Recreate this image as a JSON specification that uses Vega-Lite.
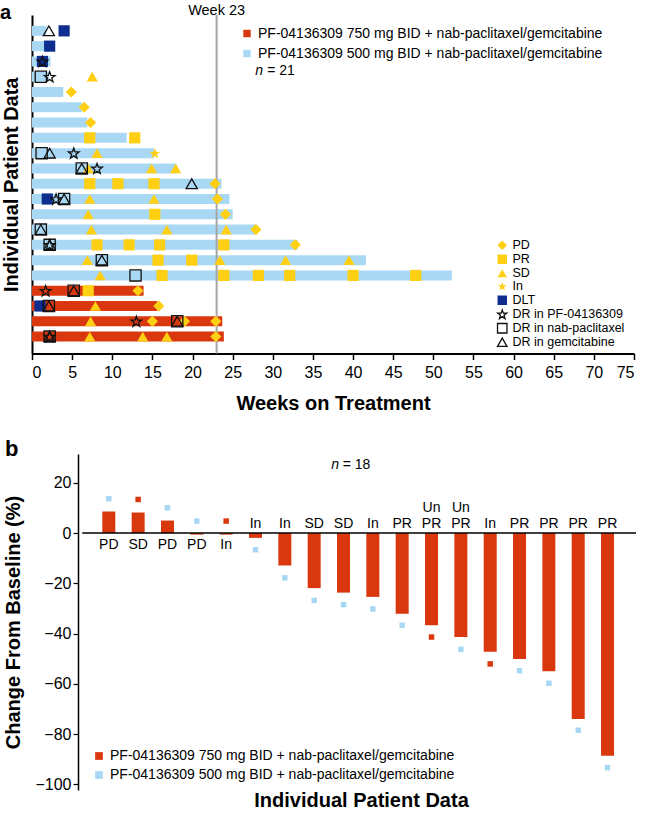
{
  "$schema": "https://vega.github.io/schema/vega-lite/v6.json",
  "padding": {"left": 0, "top": 3, "right": 0, "bottom": 0},
  "background": "white",
  "config": {
    "font": "Liberation Sans",
    "view": {"stroke": null},
    "axis": {"grid": false, "domainColor": "black", "tickColor": "black", "labelColor": "black", "titleColor": "black"},
    "legend": {"labelColor": "black"}
  },
  "datasets": {
    "bars_a": [
      {"row": 1, "weeks": 1.8, "arm": "500"},
      {"row": 2, "weeks": 2.5, "arm": "500"},
      {"row": 3, "weeks": 2.3, "arm": "500"},
      {"row": 4, "weeks": 2.1, "arm": "500"},
      {"row": 5, "weeks": 3.9, "arm": "500"},
      {"row": 6, "weeks": 6.2, "arm": "500"},
      {"row": 7, "weeks": 6.9, "arm": "500"},
      {"row": 8, "weeks": 11.8, "arm": "500"},
      {"row": 9, "weeks": 15.2, "arm": "500"},
      {"row": 10, "weeks": 18.0, "arm": "500"},
      {"row": 11, "weeks": 23.6, "arm": "500"},
      {"row": 12, "weeks": 24.6, "arm": "500"},
      {"row": 13, "weeks": 25.0, "arm": "500"},
      {"row": 14, "weeks": 28.0, "arm": "500"},
      {"row": 15, "weeks": 33.1, "arm": "500"},
      {"row": 16, "weeks": 41.6, "arm": "500"},
      {"row": 17, "weeks": 52.3, "arm": "500"},
      {"row": 18, "weeks": 13.9, "arm": "750"},
      {"row": 19, "weeks": 15.6, "arm": "750"},
      {"row": 20, "weeks": 23.7, "arm": "750"},
      {"row": 21, "weeks": 23.9, "arm": "750"}
    ],
    "events": [
      {"row": 4, "weeks": 7.5, "event": "SD"},
      {"row": 5, "weeks": 4.9, "event": "PD"},
      {"row": 6, "weeks": 6.5, "event": "PD"},
      {"row": 7, "weeks": 7.3, "event": "PD"},
      {"row": 8, "weeks": 7.2, "event": "PR"},
      {"row": 8, "weeks": 12.8, "event": "PR"},
      {"row": 9, "weeks": 8.1, "event": "SD"},
      {"row": 9, "weeks": 15.3, "event": "In"},
      {"row": 10, "weeks": 7.0, "event": "SD"},
      {"row": 10, "weeks": 14.9, "event": "SD"},
      {"row": 10, "weeks": 17.9, "event": "SD"},
      {"row": 11, "weeks": 7.2, "event": "PR"},
      {"row": 11, "weeks": 10.7, "event": "PR"},
      {"row": 11, "weeks": 15.2, "event": "PR"},
      {"row": 11, "weeks": 22.8, "event": "PD"},
      {"row": 12, "weeks": 7.2, "event": "SD"},
      {"row": 12, "weeks": 15.2, "event": "SD"},
      {"row": 12, "weeks": 23.1, "event": "PD"},
      {"row": 13, "weeks": 7.0, "event": "SD"},
      {"row": 13, "weeks": 15.3, "event": "PR"},
      {"row": 13, "weeks": 24.1, "event": "PD"},
      {"row": 14, "weeks": 7.4, "event": "SD"},
      {"row": 14, "weeks": 16.8, "event": "SD"},
      {"row": 14, "weeks": 24.2, "event": "SD"},
      {"row": 14, "weeks": 27.9, "event": "PD"},
      {"row": 15, "weeks": 8.1, "event": "PR"},
      {"row": 15, "weeks": 12.1, "event": "PR"},
      {"row": 15, "weeks": 15.9, "event": "PR"},
      {"row": 15, "weeks": 23.9, "event": "PR"},
      {"row": 15, "weeks": 32.8, "event": "PD"},
      {"row": 16, "weeks": 6.9, "event": "SD"},
      {"row": 16, "weeks": 15.7, "event": "PR"},
      {"row": 16, "weeks": 19.9, "event": "PR"},
      {"row": 16, "weeks": 23.4, "event": "SD"},
      {"row": 16, "weeks": 31.6, "event": "SD"},
      {"row": 16, "weeks": 39.5, "event": "SD"},
      {"row": 17, "weeks": 8.5, "event": "SD"},
      {"row": 17, "weeks": 16.2, "event": "PR"},
      {"row": 17, "weeks": 23.9, "event": "PR"},
      {"row": 17, "weeks": 28.2, "event": "PR"},
      {"row": 17, "weeks": 32.1, "event": "PR"},
      {"row": 17, "weeks": 40.0, "event": "PR"},
      {"row": 17, "weeks": 47.8, "event": "PR"},
      {"row": 18, "weeks": 7.0, "event": "PR"},
      {"row": 18, "weeks": 13.2, "event": "PD"},
      {"row": 19, "weeks": 7.9, "event": "SD"},
      {"row": 19, "weeks": 15.8, "event": "PD"},
      {"row": 20, "weeks": 7.3, "event": "SD"},
      {"row": 20, "weeks": 15.0, "event": "PD"},
      {"row": 20, "weeks": 19.0, "event": "PD"},
      {"row": 20, "weeks": 22.9, "event": "PD"},
      {"row": 21, "weeks": 7.2, "event": "SD"},
      {"row": 21, "weeks": 13.8, "event": "SD"},
      {"row": 21, "weeks": 16.8, "event": "SD"},
      {"row": 21, "weeks": 22.9, "event": "PD"},
      {"row": 1, "weeks": 4.0, "event": "DLT"},
      {"row": 2, "weeks": 2.2, "event": "DLT"},
      {"row": 3, "weeks": 1.3, "event": "DLT"},
      {"row": 12, "weeks": 1.9, "event": "DLT"},
      {"row": 19, "weeks": 1.0, "event": "DLT"},
      {"row": 1, "weeks": 2.1, "event": "DR in gemcitabine"},
      {"row": 3, "weeks": 1.3, "event": "DR in PF-04136309"},
      {"row": 4, "weeks": 1.1, "event": "DR in nab-paclitaxel"},
      {"row": 4, "weeks": 2.2, "event": "DR in PF-04136309"},
      {"row": 9, "weeks": 1.2, "event": "DR in nab-paclitaxel"},
      {"row": 9, "weeks": 2.2, "event": "DR in gemcitabine"},
      {"row": 9, "weeks": 5.2, "event": "DR in PF-04136309"},
      {"row": 10, "weeks": 6.2, "event": "DR in nab-paclitaxel"},
      {"row": 10, "weeks": 6.2, "event": "DR in gemcitabine"},
      {"row": 10, "weeks": 8.1, "event": "DR in PF-04136309"},
      {"row": 11, "weeks": 19.9, "event": "DR in gemcitabine"},
      {"row": 12, "weeks": 3.0, "event": "DR in PF-04136309"},
      {"row": 12, "weeks": 4.0, "event": "DR in nab-paclitaxel"},
      {"row": 12, "weeks": 4.0, "event": "DR in gemcitabine"},
      {"row": 14, "weeks": 1.1, "event": "DR in nab-paclitaxel"},
      {"row": 14, "weeks": 1.1, "event": "DR in gemcitabine"},
      {"row": 15, "weeks": 2.2, "event": "DR in PF-04136309"},
      {"row": 15, "weeks": 2.2, "event": "DR in nab-paclitaxel"},
      {"row": 15, "weeks": 2.2, "event": "DR in gemcitabine"},
      {"row": 16, "weeks": 8.7, "event": "DR in nab-paclitaxel"},
      {"row": 16, "weeks": 8.7, "event": "DR in gemcitabine"},
      {"row": 17, "weeks": 12.9, "event": "DR in nab-paclitaxel"},
      {"row": 18, "weeks": 1.7, "event": "DR in PF-04136309"},
      {"row": 18, "weeks": 5.2, "event": "DR in nab-paclitaxel"},
      {"row": 18, "weeks": 5.2, "event": "DR in gemcitabine"},
      {"row": 19, "weeks": 2.1, "event": "DR in nab-paclitaxel"},
      {"row": 19, "weeks": 2.1, "event": "DR in gemcitabine"},
      {"row": 20, "weeks": 13.0, "event": "DR in PF-04136309"},
      {"row": 20, "weeks": 18.1, "event": "DR in nab-paclitaxel"},
      {"row": 20, "weeks": 18.1, "event": "DR in gemcitabine"},
      {"row": 21, "weeks": 2.2, "event": "DR in PF-04136309"},
      {"row": 21, "weeks": 2.2, "event": "DR in nab-paclitaxel"},
      {"row": 21, "weeks": 2.2, "event": "DR in gemcitabine"}
    ],
    "wf": [
      {"pt": 1, "change": 8.6, "label": "PD", "arm": "500", "marker": 13.7},
      {"pt": 2, "change": 8.2, "label": "SD", "arm": "750", "marker": 13.4},
      {"pt": 3, "change": 5.0, "label": "PD", "arm": "500", "marker": 10.1},
      {"pt": 4, "change": -0.6, "label": "PD", "arm": "500", "marker": 4.8},
      {"pt": 5, "change": -0.6, "label": "In", "arm": "750", "marker": 4.8},
      {"pt": 6, "change": -1.9, "label": "In", "arm": "500", "marker": -6.6},
      {"pt": 7, "change": -12.9, "label": "In", "arm": "500", "marker": -17.8},
      {"pt": 8, "change": -21.9, "label": "SD", "arm": "500", "marker": -26.8},
      {"pt": 9, "change": -23.7, "label": "SD", "arm": "500", "marker": -28.5},
      {"pt": 10, "change": -25.4, "label": "In", "arm": "500", "marker": -30.2},
      {"pt": 11, "change": -32.1, "label": "PR", "arm": "500", "marker": -36.7},
      {"pt": 12, "change": -36.7, "label": ["Un", "PR"], "arm": "750", "marker": -41.4},
      {"pt": 13, "change": -41.4, "label": ["Un", "PR"], "arm": "500", "marker": -46.3},
      {"pt": 14, "change": -47.2, "label": "In", "arm": "750", "marker": -52.1},
      {"pt": 15, "change": -50.1, "label": "PR", "arm": "500", "marker": -54.8},
      {"pt": 16, "change": -55.0, "label": "PR", "arm": "500", "marker": -59.8},
      {"pt": 17, "change": -74.0, "label": "PR", "arm": "500", "marker": -78.5},
      {"pt": 18, "change": -88.7, "label": "PR", "arm": "500", "marker": -93.4}
    ]
  },
  "columns": 1,
  "spacing": 24,
  "resolve": {"scale": {"color": "independent", "fill": "independent", "stroke": "independent", "shape": "independent", "x": "independent", "y": "independent"}},
  "concat": [
    {
      "width": 602,
      "height": 338.5,
      "layer": [
        {
          "data": {"name": "bars_a"},
          "mark": {"type": "bar", "orient": "horizontal", "size": 10},
          "encoding": {
            "y": {"field": "row", "type": "quantitative", "scale": {"domain": [0.29, 21.78], "reverse": true, "nice": false, "zero": false},
                  "axis": {"title": "Individual Patient Data", "labels": false, "ticks": false, "domainWidth": 2, "titleFontSize": 20, "titleFontWeight": "bold", "titlePadding": 11}},
            "x": {"field": "weeks", "type": "quantitative", "scale": {"domain": [0, 75], "nice": false},
                  "axis": {"title": "Weeks on Treatment", "values": [0,5,10,15,20,25,30,35,40,45,50,55,60,65,70,75], "domainWidth": 2, "tickSize": 6, "tickWidth": 1.5, "labelFontSize": 16, "labelPadding": 5, "titleFontSize": 20, "titleFontWeight": "bold", "titlePadding": 13}},
            "x2": {"datum": 0},
            "color": {"field": "arm", "type": "nominal",
                      "scale": {"domain": ["750", "500"], "range": ["#D9380E", "#A9D8F4"]},
                      "legend": {"orient": "none", "legendX": 208, "legendY": 11.5, "title": null, "labelFontSize": 14, "symbolType": "square", "symbolSize": 55, "rowPadding": 6, "padding": 0, "labelLimit": 600,
                                 "labelExpr": "'PF-04136309 ' + datum.label + ' mg BID + nab-paclitaxel/gemcitabine'"}}
          }
        },
        {
          "data": {"values": [{}]},
          "mark": {"type": "rule", "color": "#A6A6A6", "strokeWidth": 2},
          "encoding": {"x": {"datum": 23}}
        },
        {
          "data": {"name": "events"},
          "mark": {"type": "point", "filled": true, "opacity": 1, "size": 125, "strokeWidth": 1.3},
          "encoding": {
            "x": {"field": "weeks", "type": "quantitative"},
            "y": {"field": "row", "type": "quantitative"},
            "fill": {"field": "event", "type": "nominal",
                     "scale": {"domain": ["PD", "PR", "SD", "In", "DLT", "DR in PF-04136309", "DR in nab-paclitaxel", "DR in gemcitabine"],
                               "range": ["#FFCF14", "#FFCF14", "#FFCF14", "#FFCF14", "#0E2D8E", "transparent", "transparent", "transparent"]},
                     "legend": {"orient": "none", "legendX": 464, "legendY": 224, "title": null, "labelFontSize": 12.5, "symbolSize": 90, "symbolStrokeWidth": 1.3, "rowPadding": -2, "padding": 0, "labelLimit": 600}},
            "stroke": {"field": "event", "type": "nominal",
                       "scale": {"domain": ["PD", "PR", "SD", "In", "DLT", "DR in PF-04136309", "DR in nab-paclitaxel", "DR in gemcitabine"],
                                 "range": ["transparent", "transparent", "transparent", "transparent", "transparent", "#111111", "#111111", "#111111"]},
                       "legend": {"orient": "none", "legendX": 464, "legendY": 224, "title": null, "labelFontSize": 12.5, "symbolSize": 90, "symbolStrokeWidth": 1.3, "rowPadding": -2, "padding": 0, "labelLimit": 600}},
            "shape": {"field": "event", "type": "nominal",
                      "scale": {"domain": ["PD", "PR", "SD", "In", "DLT", "DR in PF-04136309", "DR in nab-paclitaxel", "DR in gemcitabine"],
                                "range": ["diamond", "square", "triangle-up", "M0,-0.905L0.235,-0.229L0.951,-0.214L0.38,0.219L0.588,0.904L0,0.495L-0.588,0.904L-0.38,0.219L-0.951,-0.214L-0.235,-0.229Z", "square", "M0,-0.905L0.235,-0.229L0.951,-0.214L0.38,0.219L0.588,0.904L0,0.495L-0.588,0.904L-0.38,0.219L-0.951,-0.214L-0.235,-0.229Z", "square", "triangle-up"]},
                      "legend": {"orient": "none", "legendX": 464, "legendY": 224, "title": null, "labelFontSize": 12.5, "symbolSize": 90, "symbolStrokeWidth": 1.3, "rowPadding": -2, "padding": 0, "labelLimit": 600}}
          }
        },
        {
          "data": {"values": [{}]},
          "mark": {"type": "text", "fontSize": 14.5, "baseline": "bottom", "dy": -2, "color": "black"},
          "encoding": {"x": {"datum": 23}, "y": {"datum": 0.29}, "text": {"value": "Week 23"}}
        },
        {
          "data": {"values": [{}]},
          "mark": {"type": "text", "fontSize": 20, "fontWeight": "bold", "align": "left", "baseline": "alphabetic", "dx": -32, "dy": -1, "color": "black"},
          "encoding": {"x": {"datum": 0}, "y": {"datum": 0.29}, "text": {"value": "a"}}
        },
        {
          "data": {"values": [{}]},
          "mark": {"type": "text", "fontSize": 14, "fontStyle": "italic", "align": "left", "baseline": "middle", "color": "black"},
          "encoding": {"x": {"datum": 27.8}, "y": {"datum": 3.62}, "text": {"value": "n"}}
        },
        {
          "data": {"values": [{}]},
          "mark": {"type": "text", "fontSize": 14, "align": "left", "baseline": "middle", "color": "black"},
          "encoding": {"x": {"datum": 29.3}, "y": {"datum": 3.62}, "text": {"value": "= 21"}}
        }
      ]
    },
    {
      "width": 609,
      "height": 336,
      "layer": [
        {
          "data": {"name": "wf"},
          "mark": {"type": "bar", "orient": "vertical", "size": 13, "color": "#D9380E"},
          "encoding": {
            "x": {"field": "pt", "type": "quantitative", "scale": {"domain": [-1.448, 18.97], "nice": false, "zero": false},
                  "axis": {"title": "Individual Patient Data", "domain": false, "ticks": false, "labels": false, "titleFontSize": 20, "titleFontWeight": "bold", "titlePadding": 0, "titleX": 329}},
            "y": {"field": "change", "type": "quantitative", "scale": {"domain": [-102.3, 31.5], "nice": false},
                  "axis": {"title": "Change From Baseline (%)", "offset": -46, "values": [-100, -80, -60, -40, -20, 0, 20], "labelExpr": "replace(datum.label, '-', '−')", "domainWidth": 1.5, "tickSize": 5, "tickWidth": 1.2, "labelFontSize": 16, "labelPadding": 2, "titleFontSize": 20, "titleFontWeight": "bold", "titlePadding": 11}},
            "y2": {"datum": 0}
          }
        },
        {
          "data": {"values": [{}]},
          "mark": {"type": "rule", "color": "black", "strokeWidth": 1.5},
          "encoding": {"y": {"datum": 0}, "x": {"datum": 0.095}, "x2": {"datum": 18.97}}
        },
        {
          "data": {"name": "wf"},
          "mark": {"type": "square", "size": 30, "opacity": 1},
          "encoding": {
            "x": {"field": "pt", "type": "quantitative"},
            "y": {"field": "marker", "type": "quantitative"},
            "color": {"field": "arm", "type": "nominal",
                      "scale": {"domain": ["750", "500"], "range": ["#D9380E", "#A9D8F4"]},
                      "legend": {"orient": "none", "legendX": 60, "legendY": 295, "title": null, "labelFontSize": 14, "symbolType": "square", "symbolSize": 60, "rowPadding": 5, "padding": 0, "labelLimit": 600,
                                 "labelExpr": "'PF-04136309 ' + datum.label + ' mg BID + nab-paclitaxel/gemcitabine'"}}
          }
        },
        {
          "data": {"name": "wf"},
          "transform": [{"filter": "datum.marker > 0"}],
          "mark": {"type": "text", "fontSize": 14, "baseline": "top", "dy": 5, "color": "black"},
          "encoding": {"x": {"field": "pt", "type": "quantitative"}, "y": {"datum": 0}, "text": {"field": "label", "type": "nominal"}}
        },
        {
          "data": {"name": "wf"},
          "transform": [{"filter": "datum.marker < 0 && !isArray(datum.label)"}],
          "mark": {"type": "text", "fontSize": 14, "baseline": "bottom", "dy": -2, "color": "black"},
          "encoding": {"x": {"field": "pt", "type": "quantitative"}, "y": {"datum": 0}, "text": {"field": "label", "type": "nominal"}}
        },
        {
          "data": {"name": "wf"},
          "transform": [{"filter": "isArray(datum.label)"}],
          "mark": {"type": "text", "fontSize": 14, "baseline": "bottom", "dy": -18, "lineHeight": 16, "color": "black"},
          "encoding": {"x": {"field": "pt", "type": "quantitative"}, "y": {"datum": 0}, "text": {"field": "label", "type": "nominal"}}
        },
        {
          "data": {"values": [{}]},
          "mark": {"type": "text", "fontSize": 22, "fontWeight": "bold", "align": "left", "baseline": "alphabetic", "dx": -32, "dy": 2, "color": "black"},
          "encoding": {"x": {"datum": -1.448}, "y": {"datum": 31.5}, "text": {"value": "b"}}
        },
        {
          "data": {"values": [{}]},
          "mark": {"type": "text", "fontSize": 14, "fontStyle": "italic", "align": "left", "baseline": "middle", "color": "black"},
          "encoding": {"x": {"datum": 8.58}, "y": {"datum": 27.2}, "text": {"value": "n"}}
        },
        {
          "data": {"values": [{}]},
          "mark": {"type": "text", "fontSize": 14, "align": "left", "baseline": "middle", "color": "black"},
          "encoding": {"x": {"datum": 8.97}, "y": {"datum": 27.2}, "text": {"value": "= 18"}}
        }
      ]
    }
  ]
}
